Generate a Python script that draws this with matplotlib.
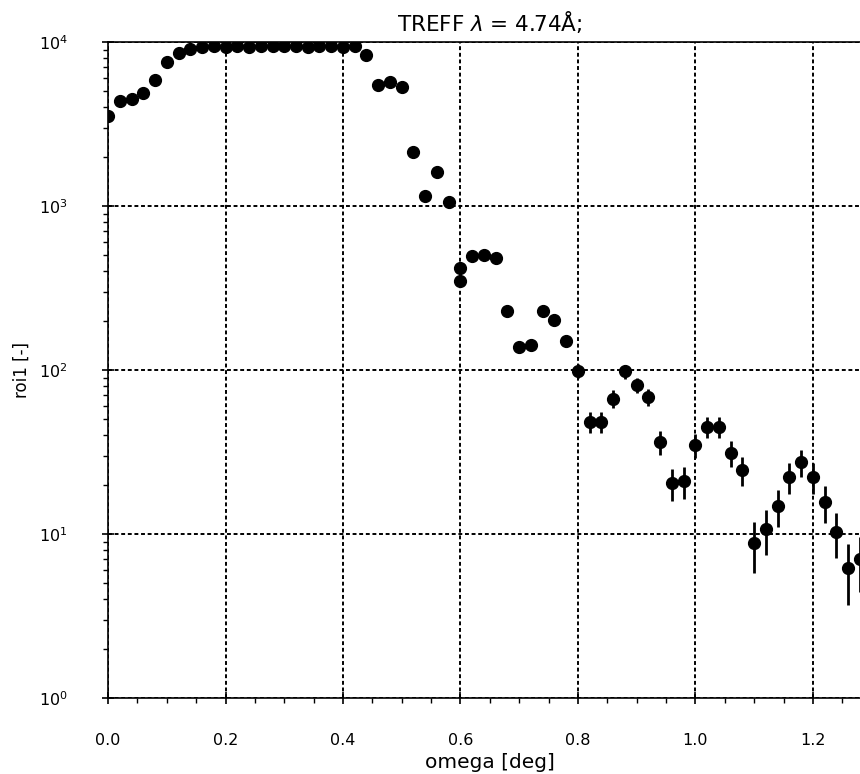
"""Rocking curve of roi1 versus omega, log scale, with Poisson-like error bars."""

import matplotlib

matplotlib.use("Agg")
import matplotlib.pyplot as plt
from matplotlib.ticker import MultipleLocator

# omega positions [deg]; 0.60 was measured twice
omega = [
    0.00, 0.02, 0.04, 0.06, 0.08, 0.10, 0.12, 0.14, 0.16, 0.18,
    0.20, 0.22, 0.24, 0.26, 0.28, 0.30, 0.32, 0.34, 0.36, 0.38,
    0.40, 0.42, 0.44, 0.46, 0.48, 0.50, 0.52, 0.54, 0.56, 0.58,
    0.60, 0.60, 0.62, 0.64, 0.66, 0.68, 0.70, 0.72, 0.74, 0.76,
    0.78, 0.80, 0.82, 0.84, 0.86, 0.88, 0.90, 0.92, 0.94, 0.96,
    0.98, 1.00, 1.02, 1.04, 1.06, 1.08, 1.10, 1.12, 1.14, 1.16,
    1.18, 1.20, 1.22, 1.24, 1.26, 1.28,
]

roi1 = [
    3550, 4380, 4480, 4880, 5850, 7550, 8600, 9100, 9350, 9400,
    9350, 9450, 9300, 9400, 9450, 9450, 9400, 9350, 9400, 9450,
    9350, 9500, 8350, 5450, 5700, 5320, 2150, 1150, 1610, 1060,
    420, 350, 495, 505, 482, 229, 138, 142, 229, 202,
    150, 99, 48.5, 48.5, 67, 98, 81, 68.5, 36.4, 20.5,
    21, 35, 45, 45, 31.2, 24.5, 8.8, 10.7, 14.8, 22.3,
    27.5, 22.3, 15.7, 10.3, 6.2, 7.0,
]

roi1_err = [
    59.6, 66.2, 66.9, 69.9, 76.5, 86.9, 92.7, 95.4, 96.7, 97.0,
    96.7, 97.2, 96.4, 97.0, 97.2, 97.2, 97.0, 96.7, 97.0, 97.2,
    96.7, 97.5, 91.4, 73.8, 75.5, 72.9, 46.4, 33.9, 40.1, 32.6,
    20.5, 18.7, 22.2, 22.5, 22.0, 15.1, 11.7, 11.9, 15.1, 14.2,
    12.2, 9.9, 7.0, 7.0, 8.2, 9.9, 9.0, 8.3, 6.0, 4.5,
    4.6, 5.9, 6.7, 6.7, 5.6, 4.9, 3.0, 3.3, 3.8, 4.7,
    5.2, 4.7, 4.0, 3.2, 2.5, 2.6,
]

x_range = (0.0, 1.3)
y_range = (1, 1e4)
title = r"TREFF $\lambda$ = 4.74Å;"

fig = plt.figure(figsize=(8.6, 7.74), dpi=100)
# the original view is cropped on the right, so the axes run past the figure edge
ax = fig.add_axes([0.1256, 0.0982, 0.888, 0.8475])

ax.errorbar(
    omega,
    roi1,
    yerr=roi1_err,
    fmt="o",
    color="black",
    markersize=8.5,
    elinewidth=2.0,
    capsize=0,
    zorder=3,
)

ax.set_yscale("log")
ax.set_xlim(*x_range)
ax.set_ylim(*y_range)
ax.xaxis.set_major_locator(MultipleLocator(0.2))
ax.xaxis.set_minor_locator(MultipleLocator(0.05))

ax.grid(True, which="major", color="black", linestyle=(0, (2.0, 1.4)), linewidth=1.4)
for spine in ax.spines.values():
    spine.set_linewidth(1.2)

ax.tick_params(which="major", direction="inout", length=8, width=1.2, labelsize=11.5)
ax.tick_params(axis="x", which="major", pad=21)
ax.tick_params(axis="y", which="major", pad=25)
ax.tick_params(which="minor", direction="out", length=3.5, width=1.0)

ax.set_xlabel("omega [deg]", fontsize=14.5, labelpad=4)
ax.set_ylabel("roi1 [-]", fontsize=12, labelpad=6)
ax.set_title(title, fontsize=15.5, pad=8)

fig.savefig("out.png", dpi=100)
